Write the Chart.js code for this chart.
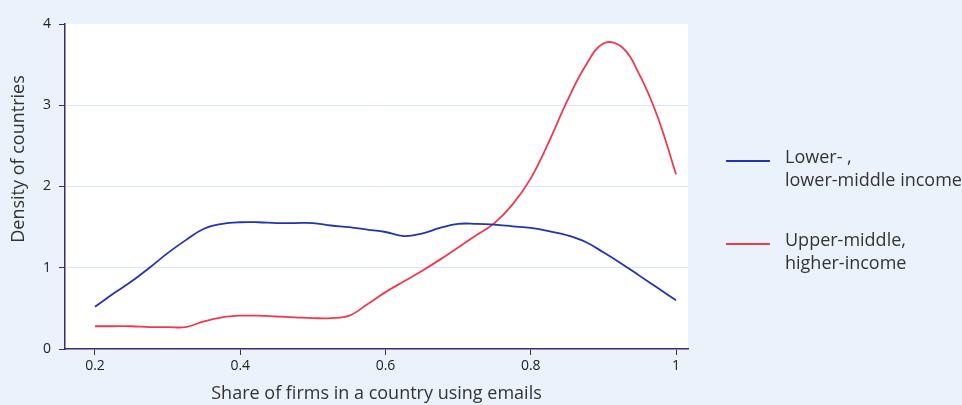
<!DOCTYPE html>
<html>
<head>
<meta charset="utf-8">
<script src="https://cdn.jsdelivr.net/npm/chart.js@4/dist/chart.umd.min.js"></script>
<style>
  html, body { margin: 0; padding: 0; background: #eaf3fc; }
  #wrap { position: relative; width: 962px; height: 405px; font-family: "Open Sans", sans-serif; overflow: hidden; }
  .leg { position: absolute; left: 726px; color: #333; font-size: 18px; line-height: 23px; }
  .leg span { position: absolute; left: 0; width: 44px; height: 0; border-top: 2px solid; }
  .leg div { margin-left: 59px; white-space: nowrap; }
</style>
</head>
<body>
<div id="wrap">
  <canvas id="myChart" width="962" height="405"></canvas>
  <div class="leg" style="top:145px"><span style="top:15px;border-color:#2233b3"></span><div>Lower- ,<br>lower-middle income</div></div>
  <div class="leg" style="top:228px"><span style="top:15px;border-color:#f2394c"></span><div>Upper-middle,<br>higher-income</div></div>
</div>
<script>
const shares = [0.2, 0.225, 0.25, 0.275, 0.3, 0.325, 0.35, 0.375, 0.4, 0.425, 0.45, 0.475, 0.5, 0.525, 0.55, 0.575, 0.6,
  0.625, 0.65, 0.675, 0.7, 0.725, 0.75, 0.775, 0.8, 0.825, 0.85, 0.875, 0.9, 0.925, 0.95, 0.975, 1.0];
const lowerIncome = [0.52, 0.68, 0.83, 1.0, 1.18, 1.34, 1.48, 1.54, 1.56, 1.56, 1.55, 1.55, 1.55, 1.52, 1.5, 1.47, 1.44,
  1.39, 1.42, 1.49, 1.54, 1.54, 1.53, 1.51, 1.49, 1.45, 1.4, 1.32, 1.19, 1.05, 0.9, 0.75, 0.6];
const upperIncome = [0.28, 0.28, 0.28, 0.27, 0.27, 0.27, 0.34, 0.39, 0.41, 0.41, 0.4, 0.39, 0.38, 0.38, 0.41, 0.55, 0.7,
  0.83, 0.96, 1.1, 1.25, 1.4, 1.55, 1.78, 2.1, 2.55, 3.05, 3.48, 3.76, 3.72, 3.37, 2.85, 2.15];
const xTicks = [0.2, 0.4, 0.6, 0.8, 1];
const yTicks = [0, 1, 2, 3, 4];

const axisColor = "#3d2a6b";

// white plot area + y title placed like the original (a bit above centre)
const plotBg = {
  id: "plotBg",
  beforeDraw(chart) {
    const { ctx, chartArea: a } = chart;
    ctx.save();
    ctx.fillStyle = "#ffffff";
    ctx.fillRect(a.left, a.top, a.right - a.left, a.bottom - a.top);
    ctx.restore();
  },
  afterDraw(chart) {
    const { ctx } = chart;
    ctx.save();
    ctx.translate(19, 159);
    ctx.rotate(-Math.PI / 2);
    ctx.fillStyle = "#333";
    ctx.font = "18px 'Open Sans', sans-serif";
    ctx.textAlign = "center";
    ctx.textBaseline = "middle";
    ctx.fillText("Density of countries", 0, 0);
    ctx.restore();
  },
};

const ctx = document.getElementById("myChart").getContext("2d");
new Chart(ctx, {
  type: "line",
  data: {
    datasets: [
      {
        label: "Lower- , lower-middle income",
        data: shares.map((s, i) => ({ x: s, y: lowerIncome[i] })),
        borderColor: "#2233b3",
        borderWidth: 1.8,
        pointRadius: 0,
        tension: 0.4,
      },
      {
        label: "Upper-middle, higher-income",
        data: shares.map((s, i) => ({ x: s, y: upperIncome[i] })),
        borderColor: "#f2394c",
        borderWidth: 1.8,
        pointRadius: 0,
        tension: 0.4,
      },
    ],
  },
  options: {
    responsive: false,
    animation: false,
    layout: { padding: { left: 0, right: 274, top: 24, bottom: 0 } },
    plugins: { legend: { display: false }, tooltip: { enabled: false } },
    scales: {
      x: {
        type: "linear",
        min: 0.1587,
        max: 1.0165,
        afterBuildTicks: (scale) => { scale.ticks = xTicks.map((v) => ({ value: v })); },
        afterFit: (scale) => { scale.height = 56; },
        border: { color: axisColor, width: 1.5 },
        grid: { color: "transparent", drawOnChartArea: false, tickColor: axisColor, tickLength: 6 },
        ticks: {
          color: "#222",
          font: { family: "'Open Sans', sans-serif", size: 14 },
          padding: 3,
          callback: (v) => String(v),
          maxRotation: 0,
        },
        title: {
          display: true,
          text: "Share of firms in a country using emails",
          color: "#333",
          font: { family: "'Open Sans', sans-serif", size: 18 },
          padding: { top: 2, bottom: 0 },
        },
      },
      y: {
        min: 0,
        max: 4,
        afterBuildTicks: (scale) => { scale.ticks = yTicks.map((v) => ({ value: v })); },
        afterFit: (scale) => { scale.width = 65; },
        border: { color: axisColor, width: 1.5 },
        grid: {
          color: (c) => (c.tick && (c.tick.value === 0 || c.tick.value === 4) ? "transparent" : "#d6e6f8"),
          tickColor: axisColor,
          tickLength: 6,
        },
        ticks: {
          color: "#222",
          font: { family: "'Open Sans', sans-serif", size: 14 },
          padding: 8,
        },
      },
    },
  },
  plugins: [plotBg],
});
</script>
</body>
</html>
